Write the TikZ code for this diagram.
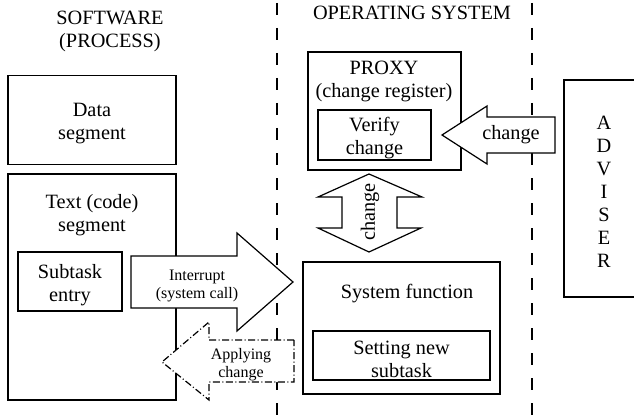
\documentclass[tikz,border=0pt]{standalone}
\usepackage{fontspec}
\setmainfont{Liberation Serif}
\usetikzlibrary{positioning}

\begin{document}
\begin{tikzpicture}[x=1pt, y=-1pt,
    box/.style={rectangle, draw, line width=1.2pt, inner sep=0pt, align=center, font=\fontsize{20.3}{23}\selectfont},
    txt/.style={align=center, inner sep=0pt, font=\fontsize{20.3}{23}\selectfont},
    small/.style={align=center, inner sep=0pt, font=\fontsize{16}{18}\selectfont},
    bigarrow/.style={draw, fill=white, line width=1.2pt, line join=miter},
    backarrow/.style={bigarrow, dash pattern=on 7pt off 2.5pt on 1pt off 2.5pt},
    sepline/.style={line width=1.2pt, dash pattern=on 12pt off 13pt},
]
    \useasboundingbox (0,0) rectangle (634,417);

    % Separators
    \foreach \x in {277,532} {
        \draw[sepline] (\x,3) -- (\x,417);
    }

    % Headings
    \node[txt] (sw) at (110,31) {SOFTWARE\\(PROCESS)};
    \node[txt] (os) at (412,13) {OPERATING SYSTEM};

    % Software side
    \node[box, minimum width=168, minimum height=89] (data) at (92,120) {};
    \node[txt] (datalbl) at (92,124) {Data\\segment};
    \node[box, minimum width=168, minimum height=226] (code) at (92,287) {};
    \node[txt] (codelbl) at (92,215) {Text (code)\\segment};
    \node[box, minimum width=104, minimum height=59] (subtask) at (70,281.5) {};
    \node[txt] (subtasklbl) at (70,285) {Subtask\\entry};

    % Operating system side
    \node[box, minimum width=153, minimum height=118] (proxy) at (384.5,111) {};
    \node[txt] (proxylbl) at (384,81) {PROXY\\(change register)};
    \node[box, minimum width=113, minimum height=50] (verify) at (374.5,135) {};
    \node[txt] (verifylbl) at (374.5,138) {Verify\\change};

    \node[box, minimum width=197, minimum height=132] (sysfn) at (401.5,328) {};
    \node[txt] (sysfnlbl) at (407,294) {System function};
    \node[box, minimum width=177, minimum height=49] (setting) at (401.5,355.5) {};
    \node[txt] (settinglbl) at (401.5,359) {Setting new\\subtask};

    % Adviser
    \node[box, minimum width=80, minimum height=217] (adviser) at (604,188.5) {};
    \node[txt] (adviserlbl) at (604,192) {A\\D\\V\\I\\S\\E\\R};

    % Interrupt
    \draw[bigarrow] (131,256) -- (237,256) -- (237,233) -- (293,282) -- (237,331) -- (237,308) -- (131,308) -- cycle;
    \node[small] (intlbl) at (197,286) {Interrupt\\(system call)};

    % Change from adviser
    \draw[bigarrow] (555,117) -- (487,117) -- (487,106) -- (442,135) -- (487,164) -- (487,153) -- (555,153) -- cycle;
    \node[txt] (advchg) at (511,135) {change};

    % Change between proxy and system function
    \draw[bigarrow] (369,174) -- (422,197) -- (397,197) -- (397,228) -- (421,228) -- (369,252)
        -- (318,228) -- (342,228) -- (342,197) -- (318,197) -- cycle;
    \node[txt, rotate=90] (proxychg) at (370,212) {change};

    % Applying change
    \draw[backarrow] (294,340) -- (209,340) -- (209,322) -- (162,362) -- (209,400) -- (209,382) -- (294,382) -- cycle;
    \node[small] (applbl) at (241,365) {Applying\\change};
\end{tikzpicture}
\end{document}
